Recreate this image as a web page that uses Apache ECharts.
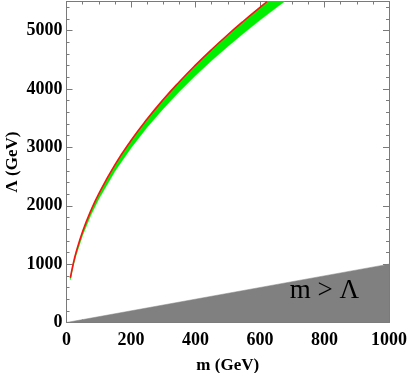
<!DOCTYPE html>
<html>
<head>
<meta charset="utf-8">
<script src="https://cdn.jsdelivr.net/npm/echarts@6/dist/echarts.min.js"></script>
<style>
  html, body { margin: 0; padding: 0; background: #fff; }
  #chart { width: 407px; height: 373px; }
</style>
</head>
<body>
<div id="chart"></div>
<script>
// m values (GeV) along the band
const upperM = [12, 20, 30, 50, 75, 100, 150, 200, 250, 300, 350, 400, 450, 500, 550, 600, 622];
// Λ on the red (upper) edge
const upperL = [764, 986, 1208, 1560, 1910, 2205, 2700, 3118, 3486, 3820, 4125, 4410, 4678, 4930, 5170, 5400, 5500];
const lowerM = [12, 20, 30, 50, 75, 100, 150, 200, 250, 300, 350, 400, 450, 500, 550, 600, 650, 676];
// Λ on the green (lower) edge
const lowerL = [733, 946, 1158, 1496, 1832, 2115, 2590, 2991, 3344, 3663, 3957, 4230, 4487, 4729, 4960, 5181, 5392, 5500];
// excluded region m > Λ
const excludedM = [0, 1000];
const excludedL = [0, 1000];

const xTicks = [0, 200, 400, 600, 800, 1000];
const yTicks = [0, 1000, 2000, 3000, 4000, 5000];

const serif = '"Liberation Serif", "DejaVu Serif", serif';
const frameColor = '#7a7a7a';

const chart = echarts.init(document.getElementById('chart'));

const axisBase = (show) => ({
  type: 'value',
  axisLine: {show: true, onZero: false, lineStyle: {color: frameColor, width: 1}},
  axisTick: {show: true, inside: true, length: 6, lineStyle: {color: frameColor}},
  splitLine: {show: false},
  axisLabel: {
    show: show,
    color: '#000',
    fontFamily: serif,
    fontWeight: 'bold',
    fontSize: 18,
    showMaxLabel: false,
    formatter: (v) => String(v),
  },
});

const xAx = (pos, show) => Object.assign(axisBase(show), {
  position: pos, min: xTicks[0], max: xTicks[xTicks.length - 1], interval: 200,
  minorTick: {show: true, splitNumber: 4, length: 3, lineStyle: {color: frameColor}},
});
const yAx = (pos, show) => Object.assign(axisBase(show), {
  position: pos, min: yTicks[0], max: 5500, interval: 1000,
  minorTick: {show: true, splitNumber: 5, length: 3, lineStyle: {color: frameColor}},
});

const xBottom = xAx('bottom', true);
xBottom.axisLabel.showMaxLabel = true;
xBottom.axisLabel.margin = 9;
xBottom.name = 'm (GeV)';
xBottom.nameLocation = 'middle';
xBottom.nameGap = 35;
xBottom.nameMoveOverlap = false;
xBottom.nameTextStyle = {color: '#000', fontFamily: serif, fontWeight: 'bold', fontSize: 17};

const yLeft = yAx('left', true);
yLeft.axisLabel.margin = 4;
yLeft.name = 'Λ (GeV)';
yLeft.nameLocation = 'middle';
yLeft.nameGap = 45;
yLeft.nameMoveOverlap = false;
yLeft.nameTextStyle = {color: '#000', fontFamily: serif, fontWeight: 'bold', fontSize: 17};

const upperPts = upperM.map((m, i) => [m, upperL[i]]);
const lowerPts = lowerM.map((m, i) => [m, lowerL[i]]);

const option = {
  animation: false,
  grid: {left: 66.5, right: 18, top: 1.5, bottom: 50.5, containLabel: false, outerBoundsMode: 'none'},
  xAxis: [xBottom, xAx('top', false)],
  yAxis: [yLeft, yAx('right', false)],
  series: [
    {
      // excluded region
      type: 'line',
      data: excludedM.map((m, i) => [m, excludedL[i]]),
      symbol: 'none',
      lineStyle: {color: '#808080', width: 0.5},
      areaStyle: {color: '#808080', opacity: 1},
      z: 1,
    },
    {
      // green band
      type: 'custom',
      data: [0],
      renderItem: (params, api) => {
        const pts = upperPts.concat(lowerPts.slice().reverse()).map(p => api.coord(p));
        return {
          type: 'polygon',
          shape: {points: pts, smooth: 0},
          style: {fill: '#00ee00', stroke: '#00ee00', lineWidth: 0.5},
        };
      },
      z: 2,
    },
    {
      type: 'line',
      data: upperPts,
      symbol: 'none',
      smooth: true,
      lineStyle: {color: '#ff1010', width: 1.6},
      z: 3,
    },
  ],
};

chart.setOption(option);

const pos = chart.convertToPixel({xAxisIndex: 0, yAxisIndex: 0}, [800, 540]);
chart.setOption({
  graphic: [{
    type: 'text',
    x: pos[0],
    y: pos[1],
    style: {
      text: 'm > Λ',
      font: '27px ' + serif,
      fill: '#000',
      align: 'center',
      verticalAlign: 'middle',
    },
    z: 10,
  }],
});
</script>
</body>
</html>
